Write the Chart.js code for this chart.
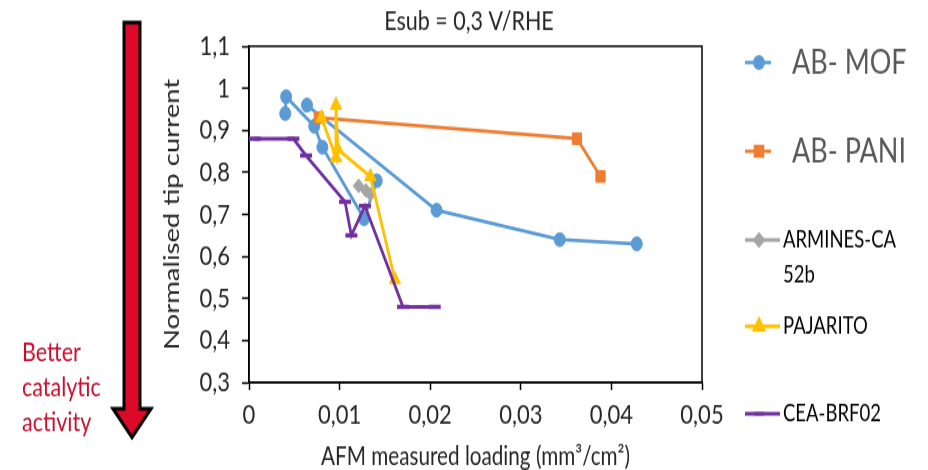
<!DOCTYPE html>
<html>
<head>
<meta charset="utf-8">
<title>Esub = 0,3 V/RHE</title>
<script src="https://cdn.jsdelivr.net/npm/chart.js@4/dist/chart.umd.min.js"></script>
<style>
  html, body { margin: 0; padding: 0; background: #fff; }
  #page { width: 928px; height: 470px; position: relative; }
  /* the original figure is stretched vertically; draw at 928x376 and stretch to 470 */
  #wrap { position: absolute; left: 0; top: 0; width: 928px; height: 376px; transform: scaleY(1.25); transform-origin: 0 0; }
</style>
</head>
<body>
<div id="page"><div id="wrap"><canvas id="c" width="928" height="376"></canvas></div></div>
<script>
  // values
  var mofX = [0.0040, 0.0041, 0.0072, 0.0081, 0.0127, 0.0141, null, 0.0064, 0.0207, 0.0343, 0.0428];
  var mofY = [0.94, 0.98, 0.91, 0.86, 0.69, 0.78, null, 0.96, 0.71, 0.64, 0.63];
  var paniX = [0.0077, 0.0362, 0.0388];
  var paniY = [0.93, 0.88, 0.79];
  var armX = [0.0121, 0.0129, 0.0134];
  var armY = [0.768, 0.757, 0.748];
  var pajX = [0.0080, 0.0096, 0.0096, 0.0098, 0.0134, 0.0161];
  var pajY = [0.93, 0.835, 0.96, 0.855, 0.79, 0.545];
  var ceaX = [0.0006, 0.0049, 0.0063, 0.0106, 0.0113, 0.0128, 0.0170, 0.0205];
  var ceaY = [0.88, 0.88, 0.84, 0.73, 0.65, 0.72, 0.48, 0.48];

  var seriesNames = ["AB- MOF", "AB- PANI", "ARMINES-CA 52b", "PAJARITO", "CEA-BRF02"];
  var xTicks = [0, 0.01, 0.02, 0.03, 0.04, 0.05];
  var xTickLabels = ["0", "0,01", "0,02", "0,03", "0,04", "0,05"];
  var yTicks = [0.3, 0.4, 0.5, 0.6, 0.7, 0.8, 0.9, 1, 1.1];
  var yTickLabels = ["0,3", "0,4", "0,5", "0,6", "0,7", "0,8", "0,9", "1", "1,1"];

  var FONT = 'Lato, "Open Sans", sans-serif';
  var INK = "#262626";

  function pts(xs, ys) {
    return xs.map(function (x, i) { return { x: x, y: ys[i] }; });
  }

  function series(label, xs, ys, color, style, radius, order) {
    return {
      label: label, data: pts(xs, ys), showLine: true, order: order,
      borderColor: color, backgroundColor: color, borderWidth: 2.8,
      pointStyle: style, pointRadius: radius, pointHoverRadius: radius,
      pointBackgroundColor: color, pointBorderColor: color,
      pointBorderWidth: style === "line" ? 3.5 : 1, spanGaps: false
    };
  }

  var datasets = [
    series(seriesNames[0], mofX, mofY, "#5B9BD5", "circle", 5.5, 5),
    series(seriesNames[1], paniX, paniY, "#ED7D31", "rect", 6.5, 4),
    series(seriesNames[2], armX, armY, "#A5A5A5", "rectRot", 5.5, 3),
    series(seriesNames[3], pajX, pajY, "#FFC000", "triangle", 6.5, 2),
    series(seriesNames[4], ceaX, ceaY, "#7030A0", "line", 6, 1)
  ];

  // legend rows (canvas units, before the vertical stretch)
  var legendRows = [
    { y: 50, x2: 771, tx: 792, lines: ["AB- MOF"], font: "27px " + FONT, color: "#595959" },
    { y: 121, x2: 771, tx: 792, lines: ["AB- PANI"], font: "27px " + FONT, color: "#595959" },
    { y: 192, x2: 780, tx: 783, lines: ["ARMINES-CA", "52b"], font: "18.5px " + FONT, color: "#000" },
    { y: 261, x2: 780, tx: 783, lines: ["PAJARITO"], font: "18.5px " + FONT, color: "#000" },
    { y: 331, x2: 780, tx: 783, lines: ["CEA-BRF02"], font: "18.5px " + FONT, color: "#000" }
  ];

  var decor = {
    id: "decor",
    beforeDatasetsDraw: function (chart) {
      var a = chart.chartArea, ctx = chart.ctx;
      ctx.save();
      ctx.strokeStyle = "#000";
      ctx.lineWidth = 1.5;
      ctx.strokeRect(a.left, a.top, a.right - a.left, a.bottom - a.top);
      ctx.restore();
    },
    afterDraw: function (chart) {
      var ctx = chart.ctx;
      ctx.save();
      // title
      ctx.fillStyle = INK;
      ctx.font = "21.5px " + FONT;
      ctx.textAlign = "center";
      ctx.textBaseline = "middle";
      ctx.fillText("Esub = 0,3 V/RHE", 469, 17);

      // legend
      chart.data.datasets.forEach(function (ds, i) {
        var r = legendRows[i];
        ctx.strokeStyle = ds.borderColor;
        ctx.lineWidth = 2.8;
        ctx.beginPath();
        ctx.moveTo(745, r.y);
        ctx.lineTo(r.x2, r.y);
        ctx.stroke();
        ctx.fillStyle = ds.backgroundColor;
        Chart.helpers.drawPoint(ctx, {
          pointStyle: ds.pointStyle, radius: ds.pointRadius - 1, rotation: 0,
          borderWidth: ds.pointBorderWidth
        }, 759, r.y);
        ctx.fillStyle = r.color;
        ctx.font = r.font;
        ctx.textAlign = "left";
        ctx.textBaseline = "middle";
        r.lines.forEach(function (t, k) { ctx.fillText(t, r.tx, r.y + k * 28); });
      });

      // red arrow
      ctx.beginPath();
      ctx.moveTo(124, 18);
      ctx.lineTo(140, 18);
      ctx.lineTo(140, 327);
      ctx.lineTo(151, 327);
      ctx.lineTo(132, 350);
      ctx.lineTo(113, 327);
      ctx.lineTo(124, 327);
      ctx.closePath();
      ctx.fillStyle = "#DC0A28";
      ctx.fill();
      ctx.lineWidth = 3;
      ctx.strokeStyle = "#000";
      ctx.stroke();

      ctx.fillStyle = "#C8102E";
      ctx.font = "21.5px " + FONT;
      ctx.textAlign = "left";
      ctx.fillText("Better", 22, 282);
      ctx.fillText("catalytic", 22, 310);
      ctx.fillText("activity", 22, 338);
      ctx.restore();
    }
  };

  function tickAxis(ticks, labels, tickLen, pad) {
    return {
      type: "linear",
      min: ticks[0],
      max: ticks[ticks.length - 1],
      afterBuildTicks: function (scale) {
        scale.ticks = ticks.map(function (v) { return { value: v }; });
      },
      ticks: {
        padding: pad,
        color: INK,
        font: { family: FONT, size: 22 },
        callback: function (v) {
          var i = ticks.indexOf(v);
          return i >= 0 ? labels[i] : "";
        }
      },
      grid: { drawOnChartArea: false, tickLength: tickLen, tickColor: "#000", tickWidth: 1.5 },
      border: { color: "#000", width: 1.5 }
    };
  }

  var xAxis = tickAxis(xTicks, xTickLabels, 6, 7);
  xAxis.title = { display: true, text: "AFM measured loading (mm³/cm²)", color: INK,
    font: { family: FONT, size: 20.7, lineHeight: 1 }, padding: { top: 0, bottom: 0 } };
  xAxis.afterFit = function (s) { s.height = 70; };

  var yAxis = tickAxis(yTicks, yTickLabels, 7, 12);
  yAxis.title = { display: true, text: "Normalised tip current", color: INK,
    font: { family: FONT, size: 22, lineHeight: 1 }, padding: { top: 161, bottom: 0 } };
  yAxis.afterFit = function (s) { s.width = 249; };

  new Chart(document.getElementById("c"), {
    type: "scatter",
    data: { datasets: datasets },
    options: {
      responsive: false,
      animation: false,
      devicePixelRatio: 1,
      layout: { padding: { left: 0, right: 226, top: 37, bottom: 0 } },
      plugins: { legend: { display: false }, title: { display: false }, tooltip: { enabled: false } },
      scales: { x: xAxis, y: yAxis }
    },
    plugins: [decor]
  });
</script>
</body>
</html>
